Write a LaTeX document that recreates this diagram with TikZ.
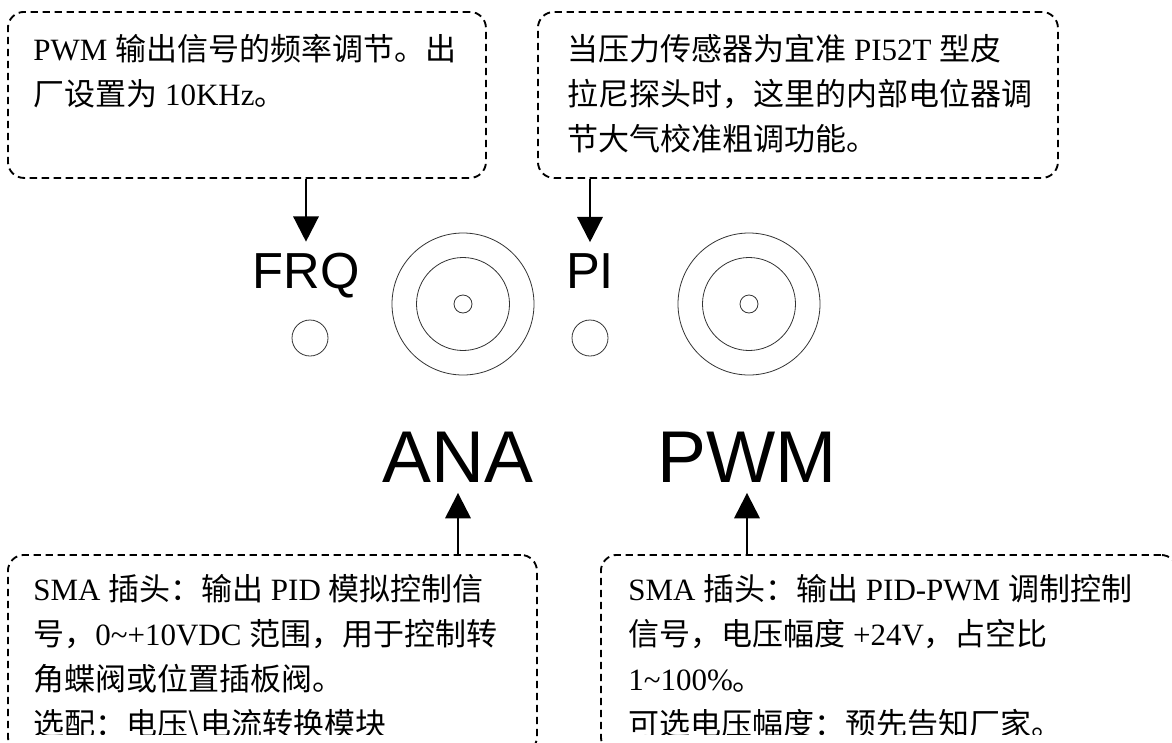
\documentclass[tikz,border=0pt]{standalone}
\usepackage{fontspec}
\setmainfont{Liberation Serif}
\newfontfamily\cjk{Noto Sans CJK SC}
\newfontfamily\labelfont{Liberation Sans}
\usepackage{tikz}
\usetikzlibrary{arrows.meta,positioning}
\newcommand{\zh}[1]{{\cjk #1}}

\begin{document}
\begin{tikzpicture}[
    x=0.75pt, y=-0.75pt,
    notebox/.style={rectangle, rounded corners=12pt, draw, line width=1.4pt,
                    dash pattern=on 5.5pt off 3.5pt, anchor=north west, inner sep=0pt},
    note/.style={font=\fontsize{23.25pt}{33.75pt}\selectfont, align=left, inner sep=0pt},
    tag/.style={font=\labelfont\fontsize{38pt}{44pt}\selectfont, inner sep=8pt, anchor=base},
    bigtag/.style={tag, font=\labelfont\fontsize{55pt}{60pt}\selectfont},
    ring/.style={circle, draw=black!80, line width=0.6pt, inner sep=0pt},
    arr/.style={-{Triangle[length=19pt,width=19pt]}, line width=1.8pt}
  ]
  \clip (0,0) rectangle (1172,743);

  \node[notebox, minimum width=358.5pt, minimum height=124.5pt] (frqbox) at (7,11) {};
  \node[notebox, minimum width=390pt, minimum height=124.5pt] (pibox) at (537,11) {};
  \node[notebox, minimum width=396.75pt, minimum height=148.5pt] (anabox) at (7,554) {};
  \node[notebox, minimum width=432pt, minimum height=148.5pt] (pwmbox) at (600,554) {};

  \node[note, below right=17.25pt and 19.5pt of frqbox.north west] (frqtext)
    {PWM \zh{输出信号的频率调节。出}\\
     \zh{厂设置为} 10KHz\zh{。}};
  \node[note, below right=17.25pt and 22.5pt of pibox.north west] (pitext)
    {\zh{当压力传感器为宜准} PI52T \zh{型皮}\\
     \zh{拉尼探头时，这里的内部电位器调}\\
     \zh{节大气校准粗调功能。}};

  \begin{scope}
    \clip (0,0) rectangle (1172,734);
    \node[note, below right=15pt and 19.5pt of anabox.north west] (anatext)
      {SMA \zh{插头：输出} PID \zh{模拟控制信}\\
       \zh{号，}0\textasciitilde+10VDC \zh{范围，用于控制转}\\
       \zh{角蝶阀或位置插板阀。}\\
       \zh{选配：电压\textbackslash 电流转换模块}};
    \node[note, below right=15pt and 21pt of pwmbox.north west] (pwmtext)
      {SMA \zh{插头：输出} PID-PWM \zh{调制控制}\\
       \zh{信号，电压幅度} +24V\zh{，占空比}\\
       1\textasciitilde 100\%\zh{。}\\
       \zh{可选电压幅度：预先告知厂家。}};
  \end{scope}

  \node[tag] (frq) at (306,288) {FRQ};
  \node[tag] (pi) at (590,288) {PI};
  \node[bigtag] (ana) at (458,482) {ANA};
  \node[bigtag] (pwm) at (747,482) {PWM};

  \node[ring, minimum size=27pt] (frqpot) at (310,338) {};
  \node[ring, minimum size=27pt] (pipot) at (590,338) {};

  \node[ring, minimum size=106.5pt] (anajack) at (463,304) {};
  \node[ring, minimum size=69.75pt] (anajackin) at (anajack) {};
  \node[ring, minimum size=13.5pt] (anapin) at (anajack) {};
  \node[ring, minimum size=106.5pt] (pwmjack) at (749,304) {};
  \node[ring, minimum size=69.75pt] (pwmjackin) at (pwmjack) {};
  \node[ring, minimum size=13.5pt] (pwmpin) at (pwmjack) {};

  \draw[arr] (frqbox.south -| frq.north) -- (frq.north);
  \draw[arr] (pibox.south -| pi.north) -- (pi.north);
  \draw[arr] (anabox.north -| ana.south) -- (ana.south);
  \draw[arr] (pwmbox.north -| pwm.south) -- (pwm.south);
\end{tikzpicture}
\end{document}
